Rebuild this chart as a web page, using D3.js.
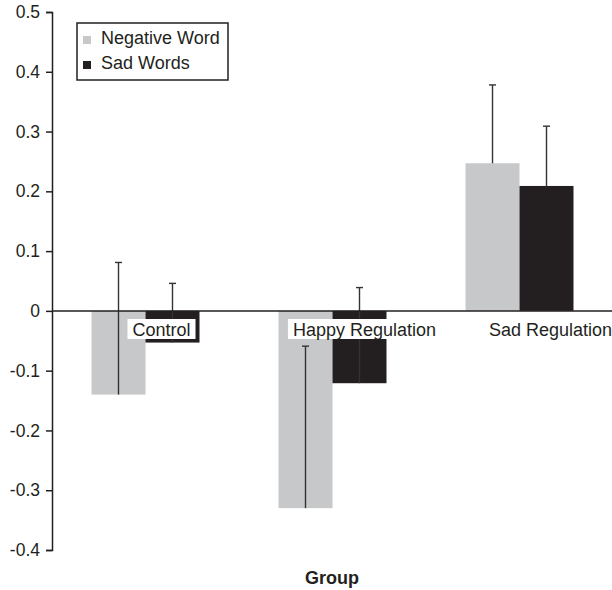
<!DOCTYPE html>
<html>
<head>
<meta charset="utf-8">
<script src="https://cdn.jsdelivr.net/npm/d3@7"></script>
<style>
  body { margin: 0; background: #fff; }
  svg { display: block; font-family: Arial, "Liberation Sans", sans-serif; }
</style>
</head>
<body>
<div id="chart"></div>
<script>
const categories = ["Control", "Happy Regulation", "Sad Regulation"];
const seriesNames = ["Negative Word", "Sad Words"];
const negativeWord = [-0.14, -0.33, 0.247];
const sadWords = [-0.053, -0.121, 0.209];
const negativeErr = [0.221, 0.271, 0.131];
const sadErr = [0.099, 0.16, 0.1];
const yTicks = [-0.4, -0.3, -0.2, -0.1, 0, 0.1, 0.2, 0.3, 0.4, 0.5];

const width = 612;
const height = 590;
const ink = "#231f20";
const colors = ["#c7c8ca", "#231f20"];
// labels sit a little right of their group centre in the original
const labelShift = [16, 32, 31];

const rows = categories.map((c, i) => ({
  cat: c,
  bars: [
    { s: 0, value: negativeWord[i], err: negativeErr[i] },
    { s: 1, value: sadWords[i], err: sadErr[i] },
  ],
}));

const svg = d3
  .select("#chart")
  .append("svg")
  .attr("width", width)
  .attr("height", height);

const yScale = d3.scaleLinear().domain([-0.4, 0.5]).range([550, 12]);

const xScale = d3
  .scaleBand()
  .domain(categories)
  .range([52, 613])
  .paddingInner(0.4225)
  .paddingOuter(0.21125);

const xInner = d3
  .scaleBand()
  .domain([0, 1])
  .range([0, xScale.bandwidth()]);

// bars
const groups = svg
  .append("g")
  .selectAll("g")
  .data(rows)
  .join("g")
  .attr("transform", (d) => `translate(${xScale(d.cat)},0)`);

groups
  .selectAll("rect")
  .data((d) => d.bars)
  .join("rect")
  .attr("x", (d) => xInner(d.s))
  .attr("width", xInner.bandwidth())
  .attr("y", (d) => yScale(Math.max(0, d.value)))
  .attr("height", (d) => Math.abs(yScale(d.value) - yScale(0)))
  .attr("fill", (d) => colors[d.s]);

// error bars (plus side only)
const err = groups
  .selectAll("g.err")
  .data((d) => d.bars)
  .join("g")
  .attr("class", "err")
  .attr("stroke", "#333")
  .attr("stroke-width", 1.4);

err
  .append("line")
  .attr("x1", (d) => xInner(d.s) + xInner.bandwidth() / 2)
  .attr("x2", (d) => xInner(d.s) + xInner.bandwidth() / 2)
  .attr("y1", (d) => yScale(d.value))
  .attr("y2", (d) => yScale(d.value + d.err));

err
  .append("line")
  .attr("x1", (d) => xInner(d.s) + xInner.bandwidth() / 2 - 3.5)
  .attr("x2", (d) => xInner(d.s) + xInner.bandwidth() / 2 + 3.5)
  .attr("y1", (d) => yScale(d.value + d.err))
  .attr("y2", (d) => yScale(d.value + d.err));

// zero line
svg
  .append("line")
  .attr("x1", 52)
  .attr("x2", 612)
  .attr("y1", yScale(0))
  .attr("y2", yScale(0))
  .attr("stroke", ink)
  .attr("stroke-width", 1.5);

// y axis
const yAxis = svg
  .append("g")
  .attr("transform", "translate(52,0)")
  .call(
    d3
      .axisLeft(yScale)
      .tickValues(yTicks)
      .tickSize(6)
      .tickPadding(6)
      .tickFormat((d) => (d === 0 ? "0" : d.toFixed(1)))
  );
yAxis.select(".domain").attr("stroke", ink).attr("stroke-width", 1.5);
yAxis.selectAll(".tick line").attr("stroke", ink).attr("stroke-width", 1.5);
yAxis
  .selectAll(".tick text")
  .attr("font-size", 17.5)
  .attr("font-family", "Arial, 'Liberation Sans', sans-serif")
  .attr("fill", ink);

// category labels with white boxes
const labels = svg
  .append("g")
  .selectAll("g")
  .data(categories)
  .join("g")
  .attr(
    "transform",
    (d, i) => `translate(${xScale(d) + xScale.bandwidth() / 2 + labelShift[i]},336)`
  );

const labelText = labels
  .append("text")
  .attr("text-anchor", "middle")
  .attr("font-size", 18)
  .attr("fill", ink)
  .text((d) => d);

labelText.each(function () {
  const b = this.getBBox();
  d3.select(this.parentNode)
    .insert("rect", "text")
    .attr("x", b.x - 5)
    .attr("y", -17)
    .attr("width", b.width + 10)
    .attr("height", 20)
    .attr("fill", "#fff");
});

// axis title
svg
  .append("text")
  .attr("x", 332)
  .attr("y", 584)
  .attr("text-anchor", "middle")
  .attr("font-size", 18)
  .attr("font-weight", "bold")
  .attr("fill", ink)
  .text("Group");

// legend
const legend = svg.append("g");
legend
  .append("rect")
  .attr("x", 77)
  .attr("y", 23)
  .attr("width", 151)
  .attr("height", 57)
  .attr("fill", "#fff")
  .attr("stroke", ink)
  .attr("stroke-width", 1.5);

const items = legend
  .selectAll("g")
  .data(seriesNames)
  .join("g")
  .attr("transform", (d, i) => `translate(83,${36 + i * 25})`);

items
  .append("rect")
  .attr("width", 8)
  .attr("height", 8)
  .attr("fill", (d, i) => colors[i]);

items
  .append("text")
  .attr("x", 18)
  .attr("y", 8)
  .attr("font-size", 18)
  .attr("fill", ink)
  .text((d) => d);
</script>
</body>
</html>
